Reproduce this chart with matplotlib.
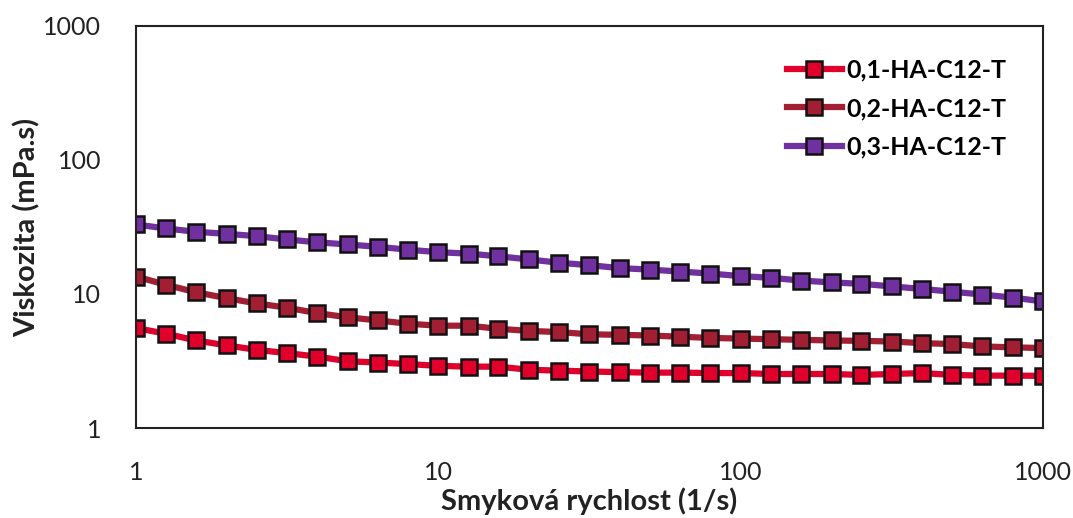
import matplotlib
matplotlib.use("Agg")
import matplotlib.pyplot as plt
from matplotlib.ticker import FixedLocator, FixedFormatter, NullLocator

plt.rcParams["font.family"] = ["Lato", "DejaVu Sans"]

# shear rate points, 10 per decade
shear = [1, 1.26, 1.58, 2, 2.51, 3.16, 3.98, 5.01, 6.31, 7.94,
         10, 12.6, 15.8, 20, 25.1, 31.6, 39.8, 50.1, 63.1, 79.4,
         100, 126, 158, 200, 251, 316, 398, 501, 631, 794, 1000]

visc_01 = [5.57, 5.05, 4.5, 4.13, 3.83, 3.62, 3.41, 3.15, 3.08, 3.0,
           2.91, 2.87, 2.87, 2.72, 2.68, 2.64, 2.61, 2.59, 2.59, 2.57,
           2.57, 2.53, 2.53, 2.53, 2.49, 2.53, 2.57, 2.49, 2.46, 2.46, 2.45]
visc_02 = [13.5, 11.7, 10.3, 9.3, 8.5, 7.9, 7.2, 6.7, 6.35, 6.0,
           5.8, 5.8, 5.5, 5.3, 5.2, 5.0, 4.96, 4.9, 4.8, 4.7,
           4.65, 4.6, 4.55, 4.5, 4.47, 4.42, 4.3, 4.23, 4.06, 4.0, 3.95]
visc_03 = [33.0, 30.8, 29.1, 28.1, 27.0, 25.5, 24.3, 23.4, 22.5, 21.4,
           20.5, 20.0, 19.1, 18.1, 17.1, 16.4, 15.6, 15.2, 14.7, 14.2,
           13.6, 13.2, 12.6, 12.2, 11.9, 11.4, 10.9, 10.4, 9.9, 9.4, 8.8]

labels = ["0,1-HA-C12-T", "0,2-HA-C12-T", "0,3-HA-C12-T"]
colors = ["#E0002B", "#A21E33", "#7030A0"]

x_ticks = [1, 10, 100, 1000]
y_ticks = [1, 10, 100, 1000]

fig = plt.figure(figsize=(10.73, 5.18), dpi=100)
ax = fig.add_axes([0.1267, 0.1737, 0.8453, 0.7763])

for y, lab, c in zip([visc_01, visc_02, visc_03], labels, colors):
    ax.plot(shear, y, color=c, lw=4.5, marker="s", ms=11,
            mfc=c, mec="#111111", mew=1.8, label=lab)

ax.set_xscale("log")
ax.set_yscale("log")
ax.set_xlim(1, 1000)
ax.set_ylim(1, 1000)
ax.xaxis.set_major_locator(FixedLocator(x_ticks))
ax.xaxis.set_major_formatter(FixedFormatter([str(v) for v in x_ticks]))
ax.yaxis.set_major_locator(FixedLocator(y_ticks))
ax.yaxis.set_major_formatter(FixedFormatter([str(v) for v in y_ticks]))
ax.xaxis.set_minor_locator(NullLocator())
ax.yaxis.set_minor_locator(NullLocator())
ax.tick_params(length=0, labelsize=18, colors="#222222")
ax.tick_params(axis="x", pad=24)
ax.tick_params(axis="y", pad=25)
for s in ax.spines.values():
    s.set_color("#222222")
    s.set_linewidth(1.5)

ax.set_xlabel("Smyková rychlost (1/s)", fontsize=21, fontweight="bold",
              labelpad=2, color="#222222")
ax.set_ylabel("Viskozita (mPa.s)", fontsize=21, fontweight="bold",
              labelpad=2, color="#222222")

ax.legend(loc="upper right", frameon=False, handlelength=2.2,
          prop={"weight": "bold", "size": 18}, bbox_to_anchor=(0.985, 0.975),
          labelspacing=0.62, handletextpad=0.2)

fig.savefig("out.png", dpi=100)
